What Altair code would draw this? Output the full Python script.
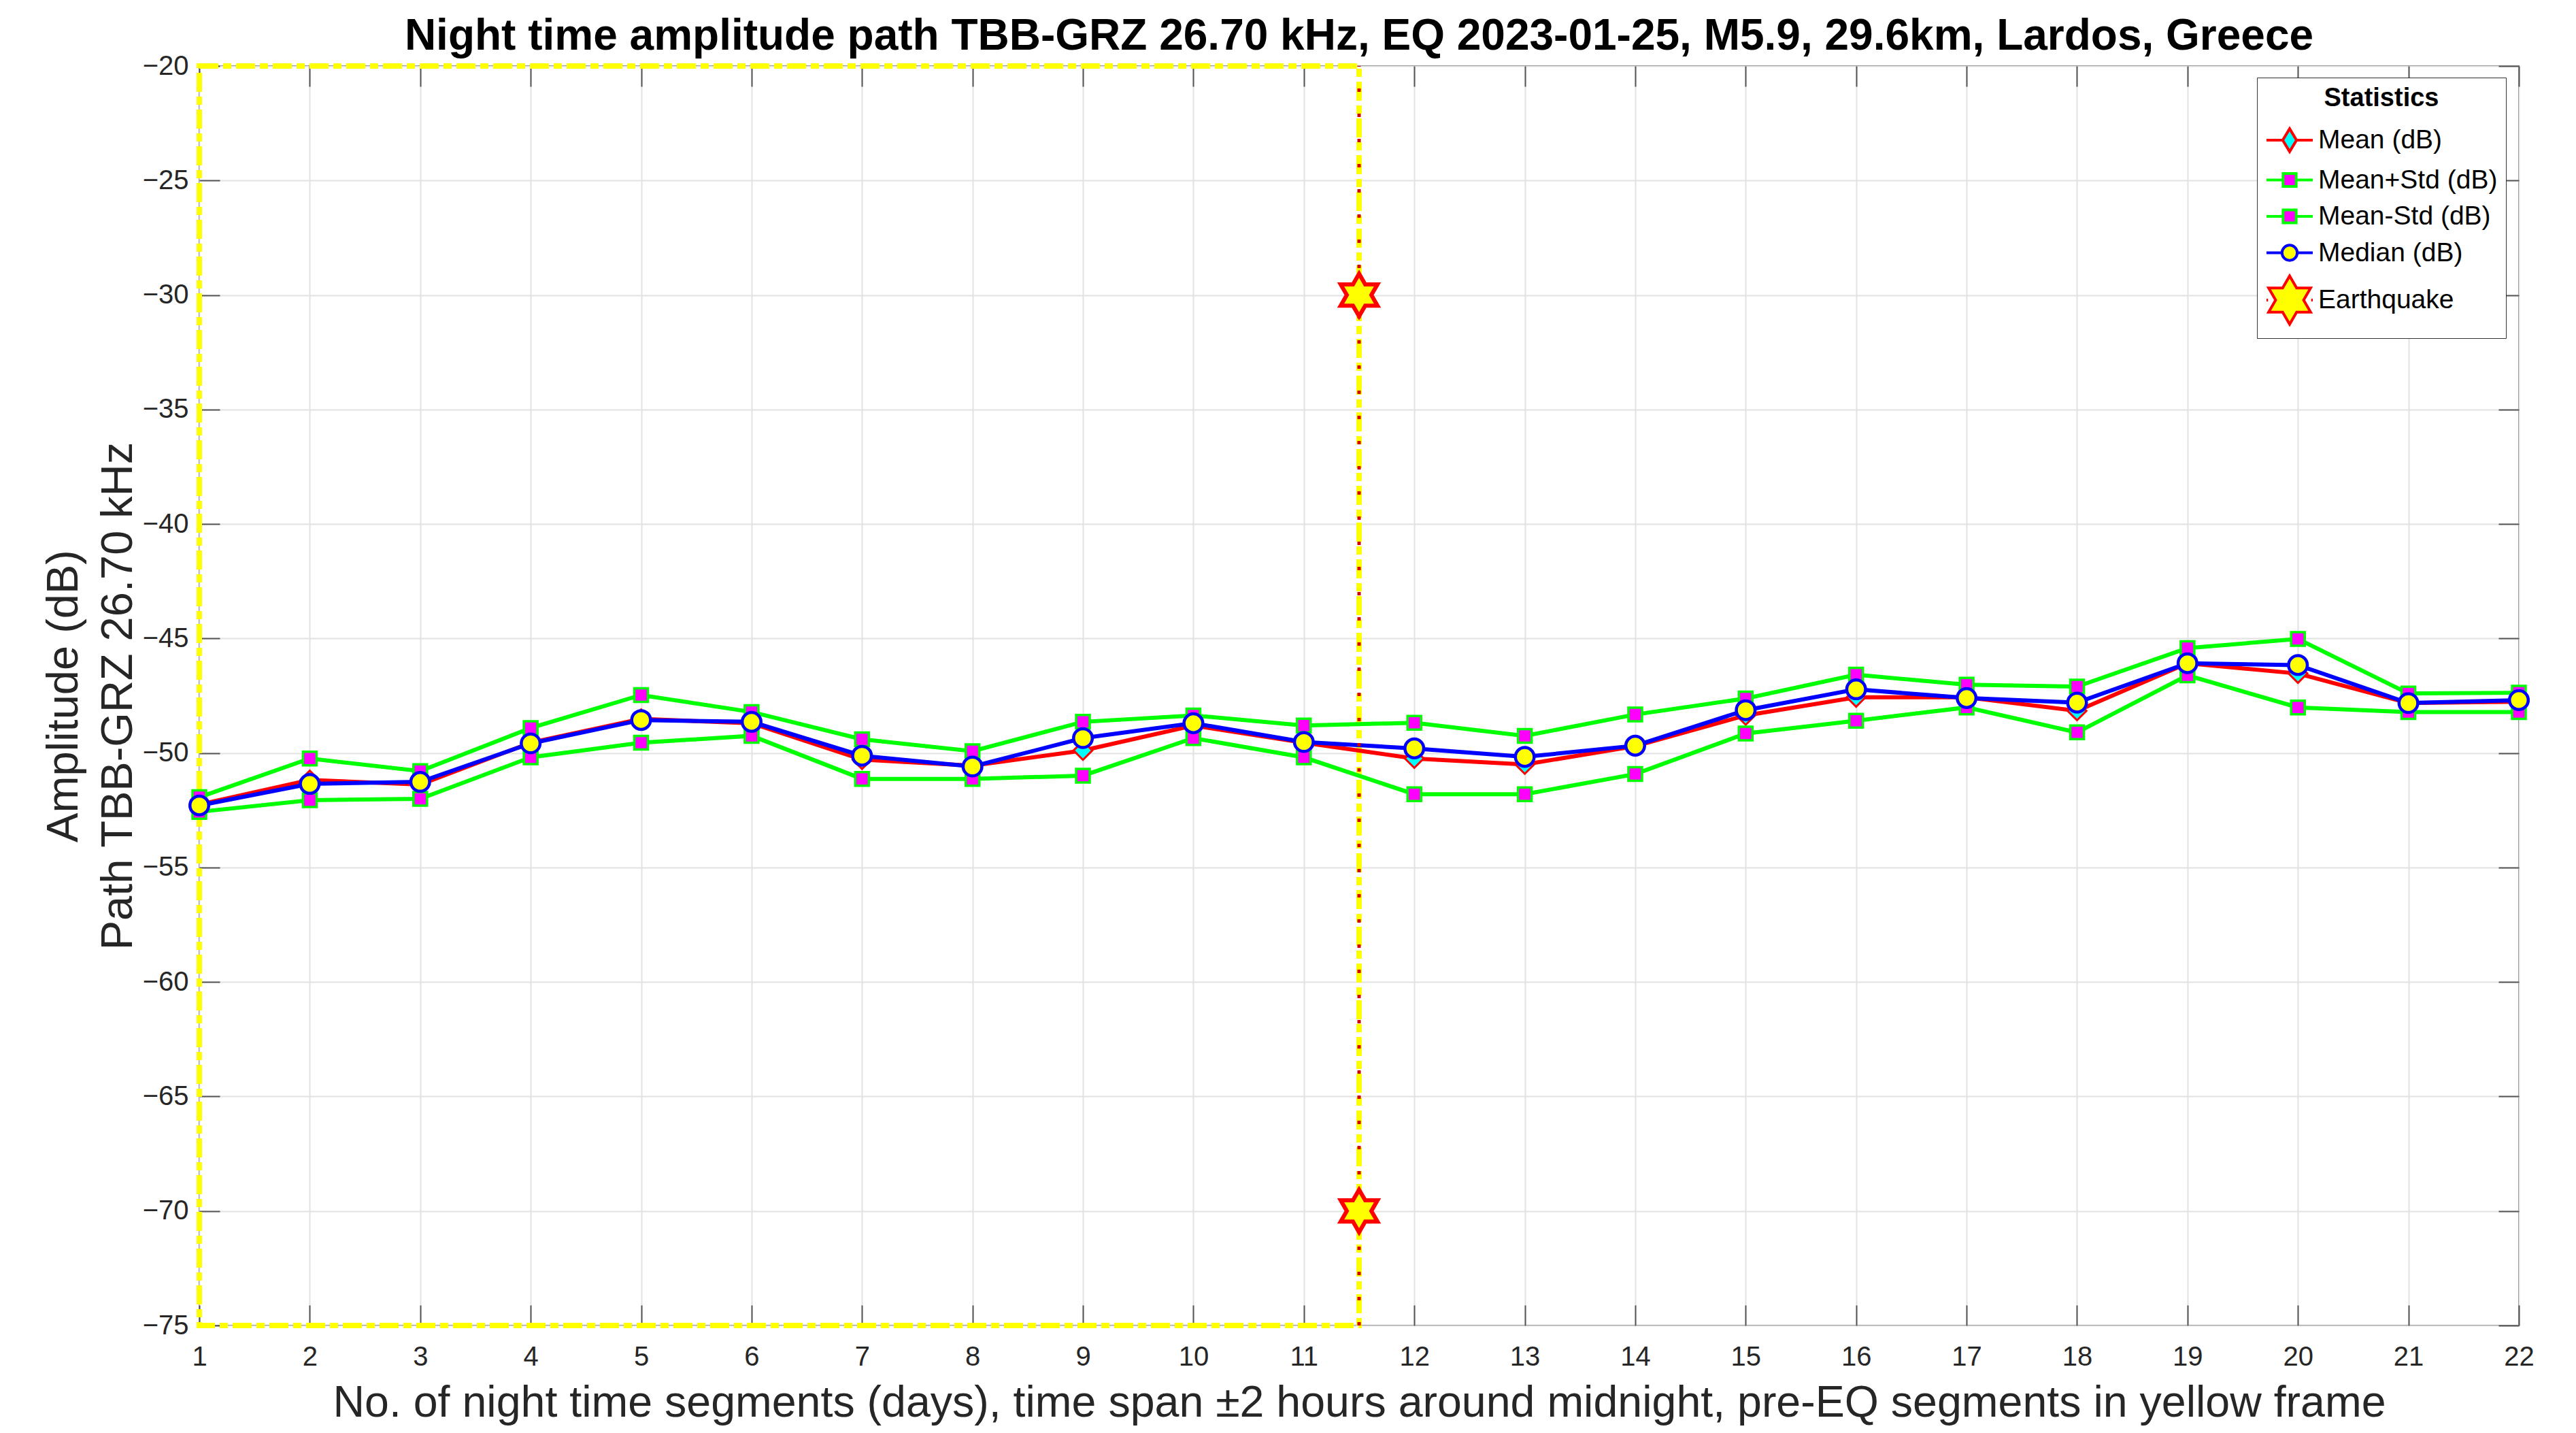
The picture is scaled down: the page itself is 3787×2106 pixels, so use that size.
import altair as alt
import pandas as pd
import numpy as np

# ---------------- data ----------------
DAYS = list(range(1, 23))
MEAN = [-52.25, -51.18, -51.38, -49.55, -48.51, -48.70, -50.29, -50.55, -49.89, -48.80, -49.55,
        -50.24, -50.50, -49.70, -48.36, -47.57, -47.57, -48.16, -46.08, -46.53, -47.82, -47.76]
MEAN_PLUS_STD = [-51.93, -50.24, -50.79, -48.91, -47.47, -48.21, -49.40, -49.92, -48.64, -48.36, -48.80,
                 -48.68, -49.25, -48.32, -47.62, -46.58, -47.02, -47.10, -45.42, -45.02, -47.40, -47.37]
MEAN_MINUS_STD = [-52.57, -52.06, -52.00, -50.19, -49.55, -49.25, -51.13, -51.13, -50.99, -49.35, -50.19,
                  -51.80, -51.80, -50.92, -49.15, -48.59, -48.01, -49.10, -46.61, -48.01, -48.21, -48.21]
MEDIAN = [-52.29, -51.35, -51.26, -49.58, -48.56, -48.64, -50.12, -50.59, -49.35, -48.70, -49.52,
          -49.80, -50.17, -49.68, -48.13, -47.22, -47.60, -47.80, -46.08, -46.16, -47.82, -47.69]
EQ_DAY = [11.5, 11.5]
EQ_LEVELS = [-30, -70]
FRAME_X = [1, 11.5]
FRAME_Y = [-75, -20]
X_TICKS = list(range(1, 23))
Y_TICKS = list(range(-75, -19, 5))
SERIES = ["Mean (dB)", "Mean+Std (dB)", "Mean-Std (dB)", "Median (dB)", "Earthquake"]

TITLE = "Night time amplitude path TBB-GRZ 26.70 kHz, EQ 2023-01-25, M5.9, 29.6km, Lardos, Greece"
X_TITLE = "No. of night time segments (days), time span \u00b12 hours around midnight, pre-EQ segments in yellow frame"
Y_TITLE = ["Amplitude (dB)", "Path TBB-GRZ 26.70 kHz"]

# ---------------- styling ----------------
FONT = "Liberation Sans"
W, H = 3410, 1851
TICK_COLOR = "#555555"
GRID_COLOR = "#e2e2e2"


def hexagram(r=1.0):
    pts = []
    for k in range(12):
        ang = np.deg2rad(90 - 30 * k)
        rad = r if k % 2 == 0 else r / np.sqrt(3)
        pts.append((rad * np.cos(ang), -rad * np.sin(ang)))
    return "M" + "L".join(f"{x:.4f},{y:.4f}" for x, y in pts) + "Z"


def fmt(v):
    return f"{v:.4f}"


# legend glyphs: short line + marker, drawn in units where the line spans +-L
L = 1.3077


def leg_line(gap):
    return f"M{fmt(-L)},0L{fmt(-gap)},0M{fmt(gap)},0L{fmt(L)},0"


def leg_diamond(w, h):
    return leg_line(w) + f"M0,{fmt(-h)}L{fmt(w)},0L0,{fmt(h)}L{fmt(-w)},0Z"


def leg_square(s):
    return leg_line(s) + f"M{fmt(-s)},{fmt(-s)}L{fmt(s)},{fmt(-s)}L{fmt(s)},{fmt(s)}L{fmt(-s)},{fmt(s)}Z"


def leg_circle(r):
    return leg_line(r) + f"M{fmt(-r)},0A{fmt(r)},{fmt(r)} 0 1,0 {fmt(r)},0A{fmt(r)},{fmt(r)} 0 1,0 {fmt(-r)},0Z"


STAR = hexagram(1.0)
LEG_SHAPES = [
    leg_diamond(0.39, 0.65),
    leg_square(0.37),
    leg_square(0.37),
    leg_circle(0.43),
    leg_line(1.22) + hexagram(1.37),
]
LEG_FILL = ["#00ffff", "#ff00ff", "#ff00ff", "#ffff00", "#ffff00"]
LEG_STROKE = ["#ff0000", "#00ff00", "#00ff00", "#0000ff", "#ff0000"]

xs = alt.Scale(domain=[1, 22], nice=False, zero=False)
ys = alt.Scale(domain=[-75, -20], nice=False, zero=False)

# ---------------- frames ----------------
frame_df = pd.DataFrame({"x": [FRAME_X[0]], "x2": [FRAME_X[1]], "y": [FRAME_Y[0]], "y2": [FRAME_Y[1]]})
eq_line_df = pd.DataFrame({"x": [EQ_DAY[0]], "y": [FRAME_Y[0]], "y2": [FRAME_Y[1]]})
star_df = pd.DataFrame({"day": EQ_DAY, "value": EQ_LEVELS})


def series_df(vals):
    return pd.DataFrame({"day": DAYS, "value": vals})


axis_main_x = alt.Axis(values=X_TICKS, format="d", grid=True, gridColor=GRID_COLOR, gridWidth=2,
                       ticks=False, tickSize=0, domain=False, labelFontSize=40, labelColor="#262626",
                       labelFont=FONT, labelPadding=26, labelFlush=False, labelOverlap=False,
                       title=X_TITLE, titleFontSize=64.5, titleFontWeight="normal", titleColor="#262626",
                       titleFont=FONT, titlePadding=16)
axis_main_y = alt.Axis(values=Y_TICKS, format="d", grid=True, gridColor=GRID_COLOR, gridWidth=2,
                       ticks=False, tickSize=0, domain=False, labelFontSize=40, labelColor="#262626",
                       labelFont=FONT, labelPadding=16, labelFlush=False, labelOverlap=False,
                       title=Y_TITLE, titleFontSize=65, titleFontWeight="normal", titleColor="#262626",
                       titleFont=FONT, titlePadding=2, titleLineHeight=80)


def tick_axis(vals, orient, offset):
    return alt.Axis(values=vals, orient=orient, offset=offset, grid=False, labels=False, domain=False,
                    ticks=True, tickSize=30, tickColor=TICK_COLOR, tickWidth=2, title=None)


frame = alt.Chart(frame_df).mark_rect(fillOpacity=0, stroke="#ffff00", strokeWidth=8,
                                      strokeDash=[28, 7, 12, 7]).encode(
    x=alt.X("x:Q", scale=xs, axis=axis_main_x),
    x2="x2:Q",
    y=alt.Y("y:Q", scale=ys, axis=axis_main_y),
    y2="y2:Q",
)

# tick-only axes (inward ticks on all four sides)
ticks_a = alt.Chart(eq_line_df).mark_rule(opacity=0).encode(
    x=alt.X("x:Q", scale=xs, axis=tick_axis(X_TICKS, "top", -H)),
    y=alt.Y("y:Q", scale=ys, axis=tick_axis(Y_TICKS, "right", -W)),
    y2="y2:Q",
)
ticks_b = alt.Chart(eq_line_df).mark_rule(opacity=0).encode(
    x=alt.X("x:Q", scale=xs, axis=tick_axis(X_TICKS, "bottom", -H)),
    y=alt.Y("y:Q", scale=ys, axis=tick_axis(Y_TICKS, "left", -W)),
    y2="y2:Q",
)


def line_layer(vals, color):
    return alt.Chart(series_df(vals)).mark_line(color=color, strokeWidth=6).encode(
        x=alt.X("day:Q", scale=xs, axis=None),
        y=alt.Y("value:Q", scale=ys, axis=None),
    )


def point_layer(vals, shape, size, fill, stroke, sw):
    return alt.Chart(series_df(vals)).mark_point(shape=shape, size=size, fill=fill, stroke=stroke,
                                                strokeWidth=sw, opacity=1, filled=True).encode(
        x=alt.X("day:Q", scale=xs, axis=None),
        y=alt.Y("value:Q", scale=ys, axis=None),
    )


mean_line = line_layer(MEAN, "#ff0000")
mean_pts = point_layer(MEAN, "diamond", 760, "#00ffff", "#ff0000", 3)
plus_line = line_layer(MEAN_PLUS_STD, "#00ff00")
plus_pts = point_layer(MEAN_PLUS_STD, "square", 400, "#ff00ff", "#00ff00", 3.5)
minus_line = line_layer(MEAN_MINUS_STD, "#00ff00")
minus_pts = point_layer(MEAN_MINUS_STD, "square", 400, "#ff00ff", "#00ff00", 3.5)
med_line = line_layer(MEDIAN, "#0000ff")
med_pts = point_layer(MEDIAN, "circle", 760, "#ffff00", "#0000ff", 4.5)

eq_rule = alt.Chart(eq_line_df).mark_rule(stroke="#d40000", strokeWidth=5, strokeDash=[5, 32]).encode(
    x=alt.X("x:Q", scale=xs, axis=None),
    y=alt.Y("y:Q", scale=ys, axis=None),
    y2="y2:Q",
)
stars = alt.Chart(star_df).mark_point(shape=STAR, size=3900, fill="#ffff00", stroke="#ff0000",
                                      strokeWidth=6, opacity=1, filled=True).encode(
    x=alt.X("day:Q", scale=xs, axis=None),
    y=alt.Y("value:Q", scale=ys, axis=None),
)

# legend-only layer (no marks drawn, legend from explicit scale domains)
legend = alt.Legend(orient="none", legendX=3025, legendY=17, title="Statistics", titleFont=FONT,
                    titleFontSize=38, titleFontWeight="bold", titleColor="black", titleAnchor="middle",
                    titlePadding=14, labelFont=FONT, labelFontSize=39, labelColor="black", labelLimit=800,
                    symbolSize=2704, symbolStrokeWidth=4, symbolOpacity=1, labelOffset=14,
                    symbolOffset=8, strokeColor="#333333", fillColor="white", padding=12, rowPadding=5.5)
leg_df = pd.DataFrame({"series": SERIES})
ghost = alt.Chart(leg_df).transform_filter("false").mark_point(filled=True, opacity=1, strokeWidth=4).encode(
    shape=alt.Shape("series:N", scale=alt.Scale(domain=SERIES, range=LEG_SHAPES), legend=legend),
    fill=alt.Fill("series:N", scale=alt.Scale(domain=SERIES, range=LEG_FILL), legend=legend),
    stroke=alt.Stroke("series:N", scale=alt.Scale(domain=SERIES, range=LEG_STROKE), legend=legend),
)

chart = alt.layer(
    frame, ticks_a, ticks_b,
    mean_line, mean_pts, plus_line, plus_pts, minus_line, minus_pts, med_line, med_pts,
    eq_rule, stars, ghost,
).resolve_axis(x="independent", y="independent").properties(
    width=W, height=H,
    title=alt.TitleParams(text=TITLE, fontSize=64, fontWeight="bold", color="black", font=FONT,
                          anchor="middle", baseline="bottom", offset=0, dy=73),
    autosize=alt.AutoSizeParams(type="none"),
    padding={"left": 285, "top": 89, "right": 76, "bottom": 150},
).configure_view(stroke="#555555", strokeWidth=2)

chart.save("out.html", embed_options={"renderer": "svg", "actions": False})
